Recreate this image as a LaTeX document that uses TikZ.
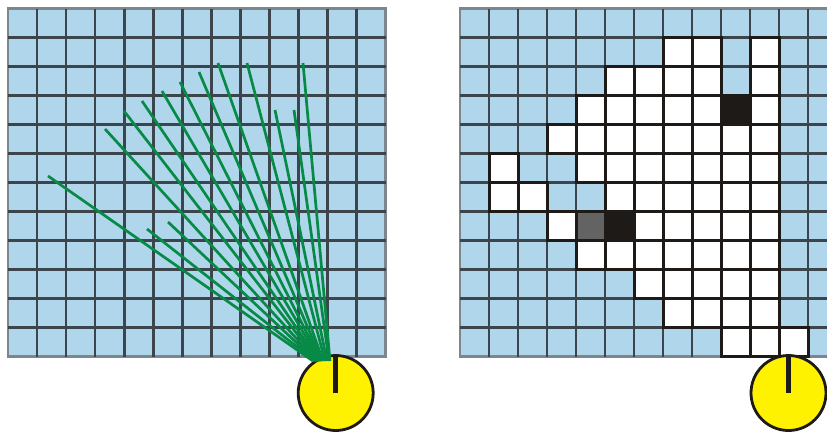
\documentclass[tikz,border=0pt]{standalone}
\definecolor{cellblue}{HTML}{B0D6EC}
\definecolor{gridgray}{HTML}{3C444C}
\definecolor{edgegray}{HTML}{7C868C}
\definecolor{raygreen}{HTML}{068A45}
\definecolor{sensoryellow}{HTML}{FFF200}
\definecolor{occblack}{HTML}{1E1A17}
\definecolor{occgray}{HTML}{636363}
\tikzset{
  gridline/.style={draw=gridgray, line width=2.6pt},
  edgeline/.style={draw=edgegray, line width=2.6pt},
  ray/.style={draw=raygreen, line width=2.7pt},
  freecell/.style={fill=white, draw=occblack, line width=3pt},
  sensor/.style={circle, draw=occblack, fill=sensoryellow, line width=2.8pt, minimum size=75pt, inner sep=0pt},
  pointer/.style={draw=occblack, line width=5.5pt},
}
\begin{document}
\begin{tikzpicture}[x=1pt, y=-1pt]
  % page size of the reference
  \clip (0,0) rectangle (827,431);

  % left grid
  \begin{scope}[shift={(8,8.5)}, x=29.05pt, y=-29pt]
    \fill[cellblue] (0,0) rectangle (13,12);
    \draw[edgeline] (0,0) rectangle (13,12);
    \foreach \x in {1,...,12} \draw[gridline] (\x,0) -- (\x,12);
    \foreach \y in {1,...,11} \draw[gridline] (0,\y) -- (13,\y);
  \end{scope}

  % right grid
  \begin{scope}[shift={(460,8.5)}, x=29pt, y=-29pt]
    \fill[cellblue] (0,0) rectangle (13,12);
    \draw[edgeline] (0,0) rectangle (13,12);
    \foreach \x in {1,...,12} \draw[gridline] (\x,0) -- (\x,12);
    \foreach \y in {1,...,11} \draw[gridline] (0,\y) -- (13,\y);
    % free cells, row by row
    \foreach \y/\cols in {1/{7,8,10}, 2/{5,6,7,8,10}, 3/{4,5,6,7,8,10},
        4/{3,4,5,6,7,8,9,10}, 5/{1,4,5,6,7,8,9,10}, 6/{1,2,5,6,7,8,9,10},
        7/{3,6,7,8,9,10}, 8/{4,5,6,7,8,9,10}, 9/{6,7,8,9,10},
        10/{7,8,9,10}, 11/{9,10,11}} {
      \foreach \x in \cols \draw[freecell] (\x,\y) rectangle ++(1,1);
    }
    \draw[freecell, fill=occgray] (4,7) rectangle ++(1,1);
    \draw[freecell, fill=occblack] (5,7) rectangle ++(1,1);
    \draw[freecell, fill=occblack] (9,3) rectangle ++(1,1);
  \end{scope}

  % sensors
  \node (sensorL) [sensor] at (335.7,393) {};
  \node (sensorR) [sensor] at (788.5,393) {};

  % beams
  \foreach \x/\y/\e in {48/176/313, 147/229/315, 168/222/316, 105/129/317, 124/111/318,
      142/101/319, 162/91/320, 180/82/321, 199/72/322, 218/63/323,
      247/63/325, 275/110/327, 294/110/329, 303/63/330} {
    \draw[ray] (\x,\y) -- (\e,361);
  }
  \draw[pointer] (sensorL.north) -- (sensorL.center);
  \draw[pointer] (sensorR.north) -- (sensorR.center);
\end{tikzpicture}
\end{document}
